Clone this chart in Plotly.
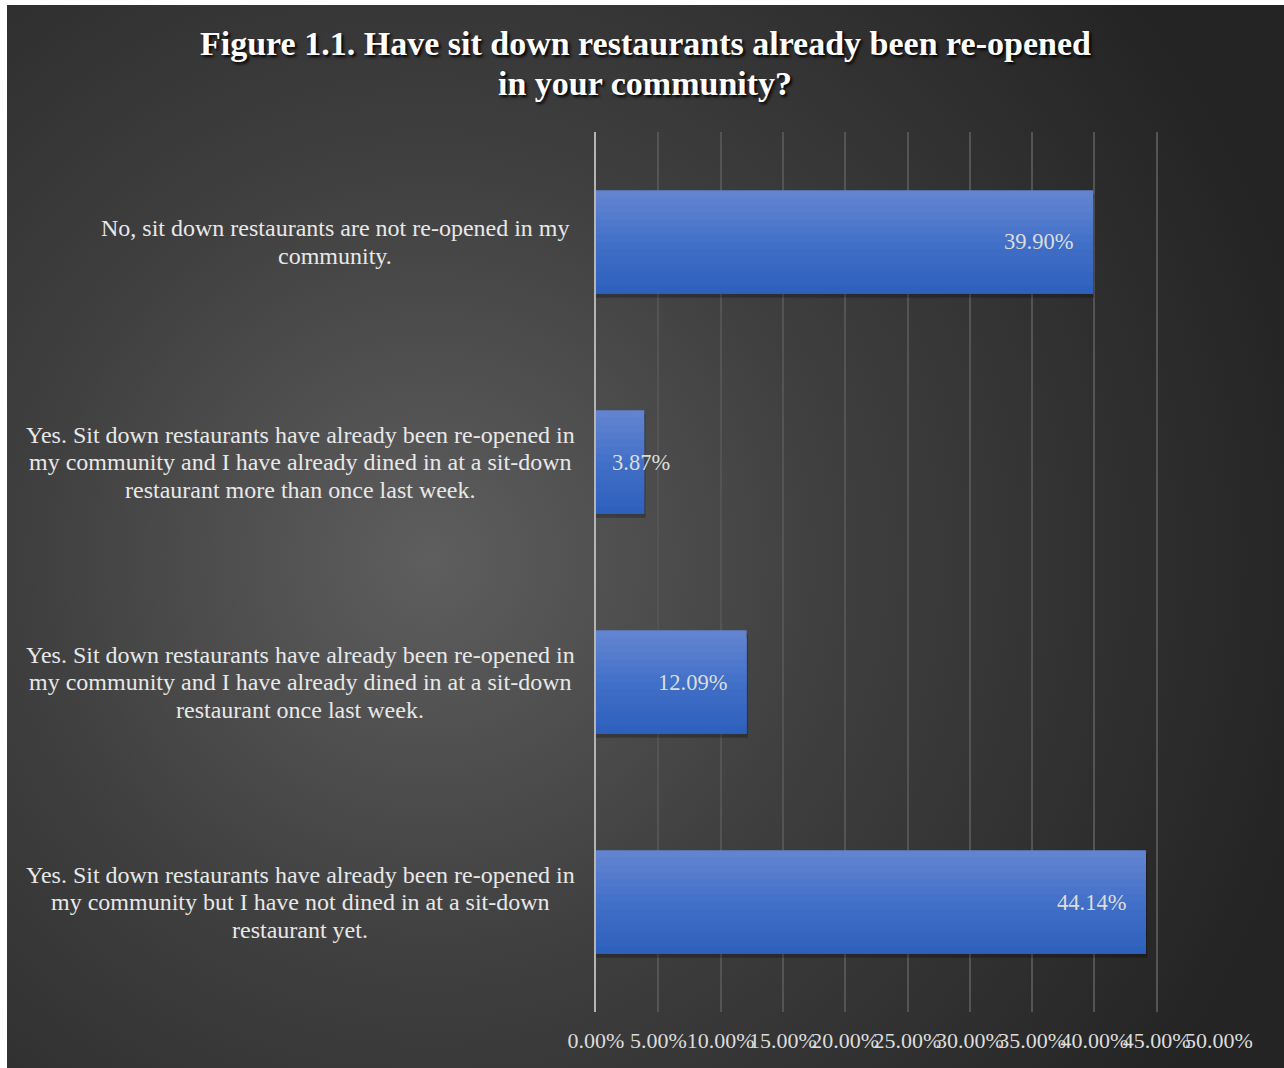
import base64
import numpy as np
import plotly.graph_objects as go

# ---- data ----
category_lines = [
    ["No, sit down restaurants are not re-opened in my", "community."],
    ["Yes. Sit down restaurants have already been re-opened in",
     "my community and I have already dined in at a sit-down",
     "restaurant more than once last week."],
    ["Yes. Sit down restaurants have already been re-opened in",
     "my community and I have already dined in at a sit-down",
     "restaurant once last week."],
    ["Yes. Sit down restaurants have already been re-opened in",
     "my community but I have not dined in at a sit-down",
     "restaurant yet."],
]
values = [39.90, 3.87, 12.09, 44.14]
tick_values = [0, 5, 10, 15, 20, 25, 30, 35, 40, 45, 50]
tick_labels = ["%.2f%%" % v for v in tick_values]
title_lines = ["Figure 1.1. Have sit down restaurants already been re-opened",
               "in your community?"]

W, H = 1284, 1068
FONT = "Liberation Serif"

# decorative radial-gradient background (SVG)
svg = f'''<svg xmlns="http://www.w3.org/2000/svg" width="{W-7}" height="{H-5}" viewBox="0 0 {W-7} {H-5}">
<defs><radialGradient id="g" gradientUnits="userSpaceOnUse" cx="{430-7}" cy="{560-5}" r="900">
<stop offset="0" stop-color="#5e5e5e"/><stop offset="0.45" stop-color="#3f3f3f"/><stop offset="1" stop-color="#242424"/>
</radialGradient></defs><rect width="100%" height="100%" fill="url(#g)"/></svg>'''
bg_src = "data:image/svg+xml;base64," + base64.b64encode(svg.encode()).decode()

fig = go.Figure()

ypos = list(range(len(values)))
bw = 0.47

# soft shadow
fig.add_trace(go.Bar(
    x=[v + 0.1 for v in values], y=ypos, orientation="h",
    width=bw, offset=-bw / 2 + 0.018,
    marker=dict(color="rgba(0,0,0,0.25)", line=dict(width=0)),
    hoverinfo="skip", showlegend=False,
))

# gradient bars drawn as overlapping horizontal strips
top = np.array([0x65, 0x86, 0xD1])
mid = np.array([0x42, 0x70, 0xC8])
bot = np.array([0x2D, 0x5F, 0xBC])
N = 14
sw = bw / N
for i in range(N):
    t = (i + 0.5) / N
    c = top + (mid - top) * (t / 0.5) if t < 0.5 else mid + (bot - mid) * ((t - 0.5) / 0.5)
    col = "rgb(%d,%d,%d)" % tuple(int(round(v)) for v in c)
    fig.add_trace(go.Bar(
        x=values, y=ypos, orientation="h",
        width=(sw * 2 if i < N - 1 else sw), offset=-bw / 2 + i * sw,
        marker=dict(color=col, line=dict(width=0)),
        hoverinfo="skip" if i else "x", showlegend=False,
    ))

annotations = []
# data labels
for v, yp in zip(values, ypos):
    label = "%.2f%%" % v
    if v > 8:
        annotations.append(dict(x=v, y=yp, xref="x", yref="y", text=label,
                                xanchor="right", yanchor="middle", xshift=-18,
                                showarrow=False,
                                font=dict(family=FONT, size=22.5, color="#dcdcdc")))
    else:
        annotations.append(dict(x=0, y=yp, xref="x", yref="y", text=label,
                                xanchor="left", yanchor="middle", xshift=14,
                                showarrow=False,
                                font=dict(family=FONT, size=22.5, color="#dcdcdc")))
# category labels, one annotation per line (centred block, right-aligned at the axis)
LS = 27.5
for lines, yp in zip(category_lines, ypos):
    n = len(lines)
    for k, ln in enumerate(lines):
        annotations.append(dict(x=0, y=yp, xref="x", yref="y", text=ln,
                                xanchor="center", yanchor="middle",
                                xshift=-296 if n == 3 else -261,
                                yshift=-(k - (n - 1) / 2) * LS,
                                showarrow=False,
                                font=dict(family=FONT, size=24, color="#e8e8e8")))
# title lines
for k, ln in enumerate(title_lines):
    annotations.append(dict(x=645 / W, y=1 - (43 + 40 * k) / H, xref="paper", yref="paper",
                            text=ln, xanchor="center", yanchor="middle",
                            showarrow=False,
                            font=dict(family=FONT, size=34, color="#ffffff",
                                      weight="bold", shadow="2px 2px 3px #000000")))

fig.update_layout(
    width=W, height=H,
    margin=dict(l=0, r=0, t=0, b=0, autoexpand=False),
    paper_bgcolor="#ffffff",
    plot_bgcolor="rgba(0,0,0,0)",
    barmode="overlay",
    showlegend=False,
    annotations=annotations,
    images=[dict(source=bg_src, xref="paper", yref="paper",
                 x=7 / W, y=1 - 5 / H, sizex=1 - 7 / W, sizey=1 - 5 / H,
                 xanchor="left", yanchor="top", sizing="stretch", layer="below")],
    xaxis=dict(
        domain=[596 / W, 1219 / W], range=[0, 50], automargin=False,
        tickvals=tick_values, ticktext=tick_labels,
        tickangle=0, showgrid=True, gridcolor="#545454", gridwidth=1.5,
        zeroline=False, showline=False,
        ticks="outside", ticklen=9, tickcolor="rgba(0,0,0,0)",
        tickfont=dict(family=FONT, size=22, color="#dcdcdc"),
        fixedrange=True,
    ),
    yaxis=dict(
        domain=[1 - 1012 / H, 1 - 132 / H], range=[3.5, -0.5], automargin=False,
        showticklabels=False, showgrid=False, zeroline=False,
        showline=True, linecolor="#b4b4b4", linewidth=2,
        fixedrange=True,
    ),
)

fig.write_html("out.html",
               config={"displayModeBar": False},
               post_script="document.body.style.margin='0px';"
                           "document.body.style.overflow='hidden';")
